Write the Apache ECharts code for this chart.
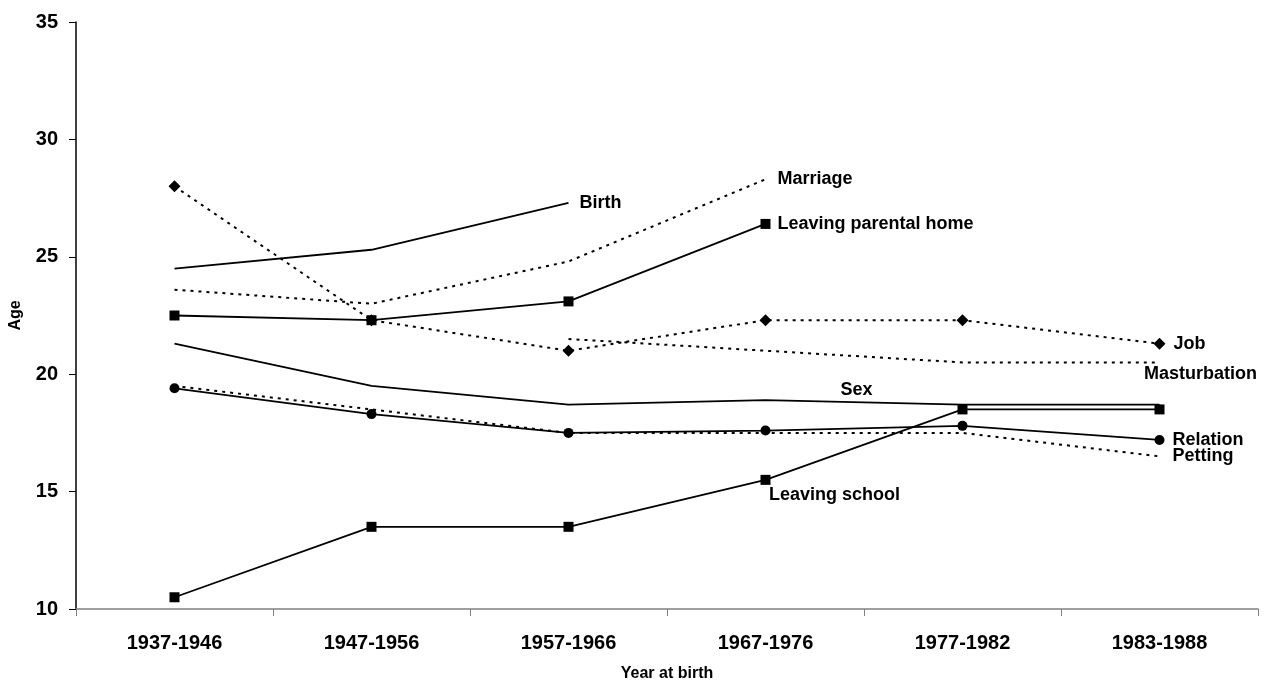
<!DOCTYPE html>
<html>
<head>
<meta charset="utf-8">
<script src="https://cdn.jsdelivr.net/npm/echarts@6/dist/echarts.min.js"></script>
<style>
  html, body { margin: 0; padding: 0; background: #fff; }
  #chart { width: 1268px; height: 686px; }
</style>
</head>
<body>
<div id="chart"></div>
<script>
// age at life events by birth cohort
var categories = ['1937-1946', '1947-1956', '1957-1966', '1967-1976', '1977-1982', '1983-1988'];

var job          = [28.0, 22.3, 21.0, 22.3, 22.3, 21.3];
var marriage     = [23.6, 23.0, 24.8, 28.3, null, null];
var birth        = [24.5, 25.3, 27.3, null, null, null];
var masturbation = [null, null, 21.5, 21.0, 20.5, 20.5];
var sex          = [21.3, 19.5, 18.7, 18.9, 18.7, 18.7];
var petting      = [19.5, 18.5, 17.5, 17.5, 17.5, 16.5];
var relation     = [19.4, 18.3, 17.5, 17.6, 17.8, 17.2];
var leavingHome  = [22.5, 22.3, 23.1, 26.4, null, null];
var leavingSchool = [10.5, 13.5, 13.5, 15.5, 18.5, 18.5];

var yTicks = [10, 15, 20, 25, 30, 35];

var font = "'Liberation Sans', Arial, sans-serif";

// build one line series; lab = where the series name is written
function makeSeries(name, values, dashed, symbol, symbolSize, lab) {
  var data = values.map(function (v, i) {
    if (lab && i === lab.idx) {
      var l = {
        show: true,
        formatter: name,
        color: '#000',
        fontFamily: font,
        fontWeight: 'bold',
        fontSize: 18
      };
      if (lab.right) {
        l.position = 'right';
        l.distance = lab.right;
      } else {
        l.position = 'inside';
        l.offset = lab.offset;
      }
      return { value: v, label: l };
    }
    return v;
  });
  return {
    name: name,
    type: 'line',
    data: data,
    symbol: symbol || 'circle',
    symbolSize: symbol ? symbolSize : 0,
    showSymbol: true,
    connectNulls: false,
    lineStyle: { color: '#000', width: dashed ? 2 : 1.8, type: dashed ? [3, 5] : 'solid' },
    itemStyle: { color: '#000' },
    label: { show: false },
    emphasis: { disabled: true },
    z: symbol ? 3 : 2
  };
}

var chart = echarts.init(document.getElementById('chart'), null, { renderer: 'canvas' });
chart.setOption({
  animation: false,
  backgroundColor: '#fff',
  grid: { left: 76, right: 10, top: 22, bottom: 77, outerBoundsMode: 'none', containLabel: false },
  xAxis: {
    type: 'category',
    data: categories,
    boundaryGap: true,
    name: 'Year at birth',
    nameLocation: 'middle',
    nameGap: 57,
    nameTextStyle: { fontFamily: font, fontWeight: 'bold', fontSize: 16, color: '#000' },
    axisLine: { lineStyle: { color: '#808080', width: 1.5 } },
    axisTick: { show: true, length: 7, lineStyle: { color: '#808080' } },
    axisLabel: { margin: 24, fontFamily: font, fontWeight: 'bold', fontSize: 20, color: '#000' },
    splitLine: { show: false }
  },
  yAxis: {
    type: 'value',
    min: yTicks[0],
    max: yTicks[yTicks.length - 1],
    interval: 5,
    name: 'Age',
    nameLocation: 'middle',
    nameGap: 52,
    nameRotate: 90,
    nameTextStyle: { fontFamily: font, fontWeight: 'bold', fontSize: 16, color: '#000' },
    axisLine: { show: true, lineStyle: { color: '#000', width: 1.5 } },
    axisTick: { show: true, length: 7, lineStyle: { color: '#000' } },
    axisLabel: { margin: 18, fontFamily: font, fontWeight: 'bold', fontSize: 20, color: '#000' },
    splitLine: { show: false }
  },
  series: [
    makeSeries('Job', job, true, 'diamond', 12, { idx: 5, right: 8 }),
    makeSeries('Marriage', marriage, true, null, 0, { idx: 3, right: 12 }),
    makeSeries('Birth', birth, false, null, 0, { idx: 2, right: 11 }),
    makeSeries('Masturbation', masturbation, true, null, 0, { idx: 5, offset: [41, 12] }),
    makeSeries('Sex', sex, false, null, 0, { idx: 3, offset: [91, -10] }),
    makeSeries('Petting', petting, true, null, 0, { idx: 5, right: 13 }),
    makeSeries('Relation', relation, false, 'circle', 10, { idx: 5, right: 8 }),
    makeSeries('Leaving parental home', leavingHome, false, 'rect', 10, { idx: 3, right: 7 }),
    makeSeries('Leaving school', leavingSchool, false, 'rect', 10, { idx: 3, offset: [69, 15] })
  ]
});
</script>
</body>
</html>
